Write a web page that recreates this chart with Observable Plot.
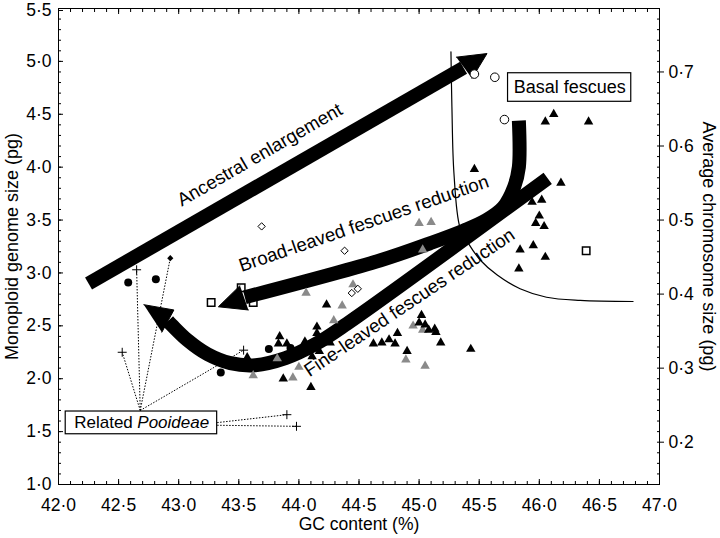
<!DOCTYPE html>
<html>
<head>
<meta charset="utf-8">
<script src="https://cdn.jsdelivr.net/npm/d3@7"></script>
<script src="https://cdn.jsdelivr.net/npm/@observablehq/plot@0.6"></script>
<style>
  html, body { margin: 0; padding: 0; background: #fff; }
</style>
</head>
<body>
<div id="chart"></div>
<script>
// ---- tick values ----
const gcTicks = [42, 42.5, 43, 43.5, 44, 44.5, 45, 45.5, 46, 46.5, 47];
const genomeTicks = [1, 1.5, 2, 2.5, 3, 3.5, 4, 4.5, 5, 5.5];
const chromTicks = [0.2, 0.3, 0.4, 0.5, 0.6, 0.7];
const basicChromosomeNumber = 7;

// ---- data: [GC content %, monoploid genome size pg] ----
const openCircles = [[45.46, 4.88], [45.63, 4.85], [45.71, 4.45]];
const filledCircles = [[42.58, 2.91], [42.81, 2.94], [43.35, 2.06], [43.75, 2.28], [43.93, 2.29]];
const crosses = [[42.53, 2.25], [42.65, 3.03], [43.54, 2.27], [43.90, 1.66], [43.98, 1.55]];
const filledDiamonds = [[42.93, 3.14]];
const openSquares = [[43.27, 2.72], [43.52, 2.86], [43.62, 2.72], [46.39, 3.21]];
const openDiamonds = [[43.69, 3.44], [44.38, 3.21], [44.44, 2.81], [44.49, 2.85]];
const grayTriangles = [
  [44.06, 2.81], [44.45, 2.89], [44.36, 2.69], [44.29, 2.55], [43.82, 2.19],
  [44.00, 2.11], [43.62, 2.03], [43.95, 2.01], [44.89, 2.18], [45.05, 2.12],
  [44.95, 2.50], [45.03, 2.46], [45.00, 3.47], [45.10, 3.48], [45.03, 3.22]
];
const blackTriangles = [
  [45.46, 3.98], [46.05, 4.43], [46.12, 4.50], [46.41, 4.43], [46.18, 3.85],
  [45.94, 3.67], [46.02, 3.69], [46.00, 3.54], [45.97, 3.47], [46.04, 3.44],
  [45.84, 3.22], [45.95, 3.26], [46.05, 3.15], [45.83, 3.04],
  [44.23, 2.70], [44.44, 2.58], [44.15, 2.49], [44.15, 2.43], [43.84, 2.40],
  [43.83, 2.33], [43.90, 2.33], [44.05, 2.35], [44.03, 2.30], [44.26, 2.34],
  [44.17, 2.26], [44.11, 2.21], [43.57, 2.20], [43.87, 2.00], [44.10, 1.92],
  [44.62, 2.33], [44.69, 2.34], [44.75, 2.37], [44.80, 2.33], [44.82, 2.43], [44.90, 2.26],
  [45.02, 2.60], [45.00, 2.53], [45.05, 2.51], [45.08, 2.46], [45.13, 2.47],
  [45.14, 2.44], [45.18, 2.34], [45.43, 2.28]
];

// dotted links from the "Related Pooideae" label to its taxa
const pooideaeLinkFrom = [[42.68, 1.70], [42.68, 1.70], [42.68, 1.70], [42.68, 1.70], [43.32, 1.585], [43.32, 1.56]];
const pooideaeLinkTo = [[42.53, 2.25], [42.65, 3.03], [42.93, 3.14], [43.54, 2.27], [43.90, 1.66], [43.98, 1.55]];

// thin boundary curve
const boundaryCurve = [
  [45.265, 5.09], [45.273, 4.57], [45.29, 3.94], [45.34, 3.43], [45.41, 3.28],
  [45.51, 3.12], [45.65, 2.98], [45.84, 2.85], [46.06, 2.77], [46.34, 2.74], [46.78, 2.73]
];

// trend arrows (shaft paths and heads)
const ancestralPath = [[42.25, 2.90], [45.37, 4.94]];
const ancestralHead = [[45.31, 5.04], [45.565, 5.074], [45.44, 4.84]];
const broadPath = [[45.83, 4.44], [45.83, 4.00], [45.79, 3.81], [45.70, 3.62], [45.56, 3.50],
  [45.37, 3.40], [45.09, 3.28], [44.68, 3.12], [43.55, 2.77]];
const broadHead = [[43.51, 2.88], [43.33, 2.68], [43.58, 2.65]];
const finePath = [[46.07, 3.895], [44.40, 2.52], [44.137, 2.326], [43.888, 2.194], [43.638, 2.128],
  [43.43, 2.147], [43.239, 2.232], [43.073, 2.364], [42.911, 2.544]];
const fineHead = [[42.71, 2.70], [42.96, 2.65], [42.86, 2.44]];

// annotation labels
const arrowLabels = [
  {text: "Ancestral enlargement", gc: 43.674, g: 4.116, angle: -30},
  {text: "Broad-leaved fescues reduction", gc: 44.54, g: 3.466, angle: -19},
  {text: "Fine-leaved fescues reduction", gc: 44.92, g: 2.72, angle: -34}
];
const basalBox = [{x1: 45.74, x2: 46.765, y1: 4.618, y2: 4.888}];
const basalLabel = [{text: "Basal fescues", gc: 46.253, g: 4.755}];
const pooideaeBox = [{x1: 42.06, x2: 43.32, y1: 1.475, y2: 1.69}];
const pooideaeLabel = [{gc: 42.635, g: 1.589}];

const fmt = d => d.toFixed(1).replace(".", "\u00b7");
const minorGc = d3.range(420, 471).map(v => v / 10);
const minorG = d3.range(10, 56).map(v => v / 10);
const X = d => d[0], Y = d => d[1];
const blank = () => "";
const FONT = "'Liberation Sans', Arial, Helvetica, sans-serif";
const topGenomeTick = genomeTicks[genomeTicks.length - 1];

const chart = Plot.plot({
  width: 720,
  height: 538,
  marginLeft: 58,
  marginRight: 61,
  marginTop: 8,
  marginBottom: 54,
  style: {fontFamily: FONT, fontSize: "17px", background: "#fff", color: "#000"},
  x: {domain: [42, 47], label: null},
  y: {domain: [1, 5.5], label: null},
  marks: [
    // axes with inward ticks
    Plot.axisX(minorGc, {anchor: "bottom", tickSize: -3, tickFormat: blank, label: null}),
    Plot.axisX(gcTicks, {anchor: "bottom", tickSize: -5, tickPadding: 19, tickFormat: fmt, label: null, fontSize: 17.5, fontFamily: FONT}),
    Plot.axisX(minorGc, {anchor: "top", tickSize: -3, tickFormat: blank, label: null}),
    Plot.axisX(gcTicks, {anchor: "top", tickSize: -5, tickFormat: blank, label: null}),
    Plot.axisY(minorG, {anchor: "left", tickSize: -3, tickFormat: blank, label: null}),
    Plot.axisY(genomeTicks.filter(t => t !== topGenomeTick), {anchor: "left", tickSize: -5, tickPadding: 12, tickFormat: fmt, label: null, fontSize: 17.5, fontFamily: FONT}),
    Plot.axisY([topGenomeTick], {anchor: "left", tickSize: -5, tickPadding: 12, tickFormat: fmt, label: null, fontSize: 17.5, fontFamily: FONT, dy: 2}),
    Plot.axisY(minorG, {anchor: "right", tickSize: -3, tickFormat: blank, label: null}),
    Plot.axisY(chromTicks.map(c => c * basicChromosomeNumber), {anchor: "right", tickSize: 4, tickPadding: 5,
      tickFormat: d => fmt(d / basicChromosomeNumber), label: null, fontSize: 17.5, fontFamily: FONT}),
    Plot.frame({stroke: "#000", strokeWidth: 1}),
    Plot.text(["GC content (%)"], {text: d => d, frameAnchor: "bottom", dy: 40, lineAnchor: "middle", textAnchor: "middle", fontSize: 17.5, fontFamily: FONT}),
    Plot.text(["Monoploid genome size (pg)"], {text: d => d, frameAnchor: "left", dx: -46, rotate: -90, textAnchor: "middle", lineAnchor: "middle", fontSize: 18, fontFamily: FONT}),
    Plot.text(["Average chromosome size (pg)"], {text: d => d, frameAnchor: "right", dx: 49, rotate: 90, textAnchor: "middle", lineAnchor: "middle", fontSize: 18, fontFamily: FONT}),

    // thin boundary curve
    Plot.line(boundaryCurve, {x: X, y: Y, stroke: "#000", strokeWidth: 1.2, curve: "catmull-rom"}),

    // dotted links
    Plot.link(pooideaeLinkFrom, {
      x1: X, y1: Y,
      x2: (d, i) => pooideaeLinkTo[i][0], y2: (d, i) => pooideaeLinkTo[i][1],
      stroke: "#000", strokeWidth: 1, strokeDasharray: "1.5,1.5"
    }),

    // arrows
    Plot.line(ancestralPath, {x: X, y: Y, stroke: "#000", strokeWidth: 14, strokeLinecap: "butt"}),
    Plot.line(ancestralHead, {x: X, y: Y, fill: "#000", stroke: "#000", strokeWidth: 1}),
    Plot.line(broadPath, {x: X, y: Y, stroke: "#000", strokeWidth: 14, strokeLinecap: "butt", curve: "catmull-rom"}),
    Plot.line(broadHead, {x: X, y: Y, fill: "#000", stroke: "#000", strokeWidth: 1}),
    Plot.line(finePath, {x: X, y: Y, stroke: "#000", strokeWidth: 14, strokeLinecap: "butt", curve: "catmull-rom"}),
    Plot.line(fineHead, {x: X, y: Y, fill: "#000", stroke: "#000", strokeWidth: 1}),

    // points
    Plot.dot(grayTriangles, {x: X, y: Y, symbol: "triangle", r: 3.5, fill: "#8a8a8a"}),
    Plot.dot(blackTriangles, {x: X, y: Y, symbol: "triangle", r: 3.5, fill: "#000"}),
    Plot.dot(filledCircles, {x: X, y: Y, r: 4, fill: "#000"}),
    Plot.dot(openCircles, {x: X, y: Y, r: 4.3, fill: "#fff", stroke: "#000", strokeWidth: 1}),
    Plot.dot(openSquares, {x: X, y: Y, symbol: "square", r: 4.2, fill: "none", stroke: "#000", strokeWidth: 1.5}),
    Plot.dot(openDiamonds, {x: X, y: Y, symbol: "diamond2", r: 3.3, fill: "#fff", stroke: "#000", strokeWidth: 1}),
    Plot.dot(filledDiamonds, {x: X, y: Y, symbol: "diamond2", r: 2.8, fill: "#000"}),
    Plot.dot(crosses, {x: X, y: Y, symbol: "plus", r: 3, stroke: "#000", strokeWidth: 1}),

    // arrow labels
    Plot.text(arrowLabels, {x: "gc", y: "g", text: "text", rotate: "angle", fontSize: 18.7, fontFamily: FONT, fill: "#000"}),

    // boxed labels
    Plot.rect(basalBox, {x1: "x1", x2: "x2", y1: "y1", y2: "y2", fill: "#fff", stroke: "#000", strokeWidth: 1.2}),
    Plot.text(basalLabel, {x: "gc", y: "g", text: "text", fontSize: 18, fontFamily: FONT, fill: "#000"}),
    Plot.rect(pooideaeBox, {x1: "x1", x2: "x2", y1: "y1", y2: "y2", fill: "#fff", stroke: "#000", strokeWidth: 1.2}),
    Plot.text(pooideaeLabel, {x: "gc", y: "g", text: () => "Related", textAnchor: "end", dx: -2, fontSize: 17, fontFamily: FONT, fill: "#000"}),
    Plot.text(pooideaeLabel, {x: "gc", y: "g", text: () => "Pooideae", textAnchor: "start", dx: 2.5, fontSize: 17, fontFamily: FONT, fontStyle: "italic", fill: "#000"})
  ]
});
document.getElementById("chart").appendChild(chart);
</script>
</body>
</html>
